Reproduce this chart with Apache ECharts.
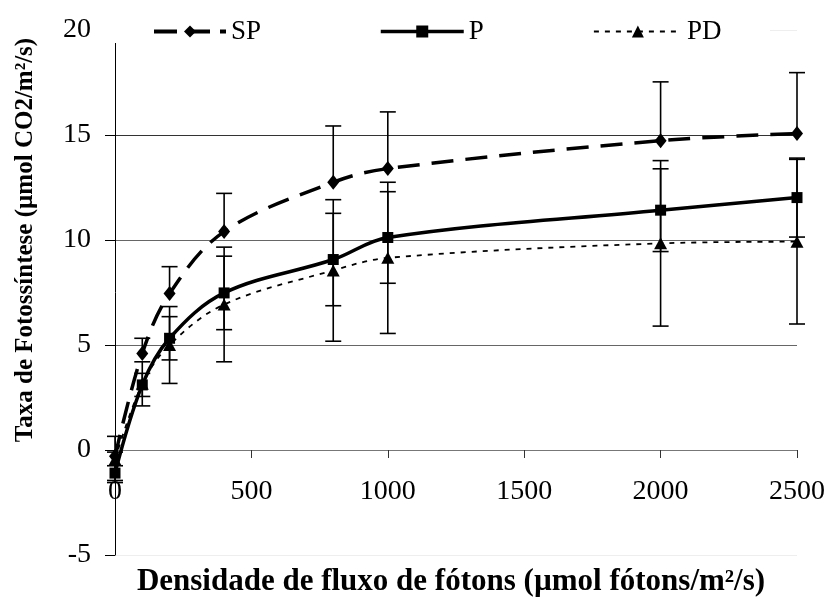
<!DOCTYPE html>
<html>
<head>
<meta charset="utf-8">
<script src="https://cdn.jsdelivr.net/npm/echarts@6/dist/echarts.min.js"></script>
<style>html,body{margin:0;padding:0;background:#fff;}#c{width:831px;height:606px;}</style>
</head>
<body>
<div id="c"></div>
<script>
var xValues = [0, 100, 200, 400, 800, 1000, 2000, 2500];
var spValues = [-0.3, 4.6, 7.45, 10.4, 12.75, 13.4, 14.73, 15.07];
var spErr = [0.2, 0.72, 1.28, 1.82, 2.68, 2.7, 2.8, 2.9];
var pValues = [-1.1, 3.1, 5.32, 7.48, 9.07, 10.12, 11.42, 12.02];
var pErr = [0.35, 0.55, 1.03, 1.75, 2.2, 2.18, 1.97, 1.88];
var pdValues = [-0.45, 3.15, 5.0, 6.93, 8.55, 9.15, 9.84, 9.92];
var pdErr = [1.1, 1.05, 1.83, 2.73, 3.37, 3.6, 3.94, 3.92];
var xTicks = [0, 500, 1000, 1500, 2000, 2500];
var yTicks = [-5, 0, 5, 10, 15, 20];
var seriesNames = ['SP', 'P', 'PD'];
var xTitle = 'Densidade de fluxo de fótons (µmol fótons/m²/s)';
var yTitle = 'Taxa de Fotossíntese (µmol CO2/m²/s)';

var FONT = '"Liberation Serif", "Times New Roman", serif';

function pairs(vals) {
  return xValues.map(function (x, i) { return [x, vals[i]]; });
}
function errData(vals, errs, plusOnly) {
  return xValues.map(function (x, i) {
    return [x, plusOnly ? vals[i] : vals[i] - errs[i], vals[i] + errs[i], plusOnly ? 0 : 1];
  });
}
function errRender(params, api) {
  var x = api.value(0);
  var lo = api.coord([x, api.value(1)]);
  var hi = api.coord([x, api.value(2)]);
  var hasLo = api.value(3) === 1;
  var w = 8;
  var st = { stroke: '#000', lineWidth: 1.6 };
  var children = [
    { type: 'line', shape: { x1: hi[0], y1: hi[1], x2: lo[0], y2: lo[1] }, style: st },
    { type: 'line', shape: { x1: hi[0] - w, y1: hi[1], x2: hi[0] + w, y2: hi[1] }, style: st }
  ];
  if (hasLo) {
    children.push({ type: 'line', shape: { x1: lo[0] - w, y1: lo[1], x2: lo[0] + w, y2: lo[1] }, style: st });
  }
  return { type: 'group', children: children };
}

var chart = echarts.init(document.getElementById('c'));
var legendText = { fontFamily: FONT, fontSize: 27, color: '#000' };
var gridTop = 30, gridBottom = 51, H = 606;
var plotH = H - gridTop - gridBottom;
var zeroOffset = -plotH * (5 / 25);
chart.setOption({
  animation: false,
  backgroundColor: '#fff',
  grid: { left: 115, right: 34, top: gridTop, bottom: gridBottom, containLabel: false, outerBoundsMode: 'none' },
  legend: [
    { data: [seriesNames[0]], left: 147, top: 13, z: 20, itemWidth: 72, itemHeight: 15, itemGap: 0, textStyle: legendText,
      lineStyle: { width: 4, type: [23, 10] } },
    { data: [seriesNames[1]], left: 374, top: 13, z: 20, itemWidth: 83, itemHeight: 15, itemGap: 0, textStyle: legendText,
      lineStyle: { width: 3.5 } },
    { data: [seriesNames[2]], left: 588, top: 13, z: 20, itemWidth: 88, itemHeight: 15, itemGap: 0, textStyle: legendText,
      lineStyle: { width: 1.8, type: [5, 6] } }
  ],
  graphic: [
    { type: 'rect', z: 5, shape: { x: 100, y: 16, width: 670, height: 27 }, style: { fill: '#fff' } },
    { type: 'text', z: 5, x: 451, y: 582, style: { text: xTitle, fontFamily: FONT, fontSize: 31, fontWeight: 'bold', fill: '#000', align: 'center', verticalAlign: 'middle' } },
    { type: 'text', z: 5, x: 26, y: 240, rotation: Math.PI / 2, style: { text: yTitle, fontFamily: FONT, fontSize: 25, fontWeight: 'bold', fill: '#000', align: 'center', verticalAlign: 'middle' } }
  ],
  xAxis: {
    type: 'value', min: 0, max: 2500, interval: 500,
    position: 'bottom', offset: zeroOffset,
    axisLine: { onZero: false, lineStyle: { color: '#777', width: 1 } },
    axisTick: { show: true, length: 8, lineStyle: { color: '#333' } },
    axisLabel: { fontFamily: FONT, fontSize: 28, color: '#000', margin: 28,
      formatter: function (v) { return xTicks.indexOf(v) >= 0 ? String(v) : ''; } },
    splitLine: { show: false }
  },
  yAxis: {
    type: 'value', min: -5, max: 20, interval: 5,
    axisLine: { show: true, onZero: false, lineStyle: { color: '#000', width: 1 } },
    axisTick: { show: true, length: 10, inside: false, lineStyle: { color: '#000' } },
    axisLabel: { fontFamily: FONT, fontSize: 28, color: '#000', margin: 24,
      formatter: function (v) { return yTicks.indexOf(v) >= 0 ? String(v) : ''; } },
    splitLine: { show: true, lineStyle: { color: ['#eeeeee', '#777777', '#666666', '#666666', '#333333', '#eeeeee'], width: 1 } }
  },
  series: [
    { type: 'custom', name: 'spErr', renderItem: errRender, data: errData(spValues, spErr, true), z: 1, silent: true },
    { type: 'custom', name: 'pErr', renderItem: errRender, data: errData(pValues, pErr, false), z: 1, silent: true },
    { type: 'custom', name: 'pdErr', renderItem: errRender, data: errData(pdValues, pdErr, false), z: 1, silent: true },
    {
      type: 'line', name: seriesNames[0], data: pairs(spValues), smooth: 0.35, z: 3,
      symbol: 'diamond', symbolSize: [12, 15],
      lineStyle: { color: '#000', width: 3.5, type: [22, 12] },
      itemStyle: { color: '#000' }
    },
    {
      type: 'line', name: seriesNames[1], data: pairs(pValues), smooth: 0.35, z: 3,
      symbol: 'rect', symbolSize: 11,
      lineStyle: { color: '#000', width: 3.5, type: 'solid' },
      itemStyle: { color: '#000' }
    },
    {
      type: 'line', name: seriesNames[2], data: pairs(pdValues), smooth: 0.35, z: 3,
      symbol: 'triangle', symbolSize: [13, 12],
      lineStyle: { color: '#000', width: 1.8, type: [5, 6] },
      itemStyle: { color: '#000' }
    }
  ]
});
</script>
</body>
</html>
